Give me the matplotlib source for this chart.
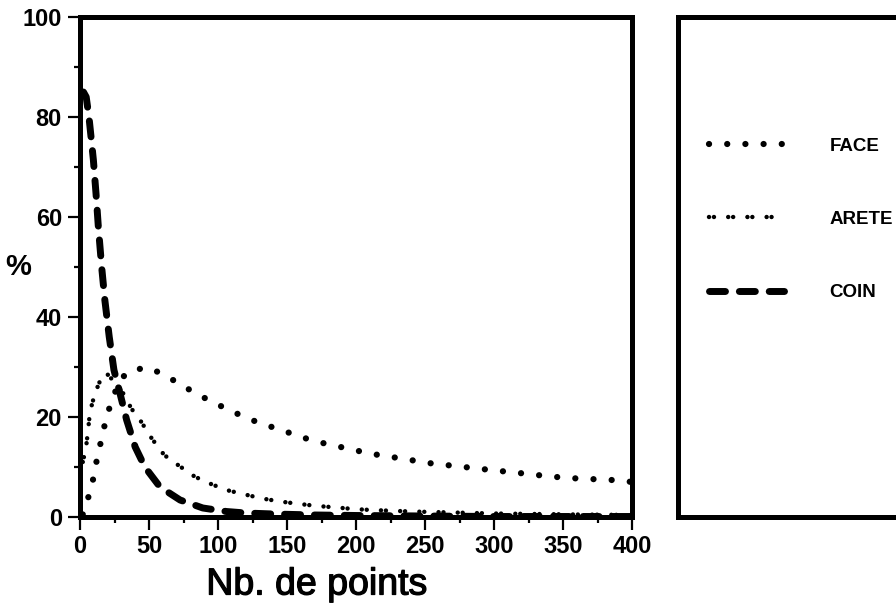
import numpy as np
import matplotlib
matplotlib.use("Agg")
import matplotlib.pyplot as plt
import matplotlib.patheffects as pe
from matplotlib.ticker import MultipleLocator

# valeurs (Nb. de points -> %)
face_x = [2, 3.6, 7.7, 10.4, 12.8, 16, 18.8, 22.7, 29, 36.5, 49.3, 61.3, 72.9, 84,
          96, 108, 120, 132, 145, 158, 171, 184, 197, 210, 223, 236, 249, 262,
          275, 288, 301, 315, 328, 341, 354, 368, 381, 394, 400]
face_y = [0.5, 2, 5.3, 8.7, 12.4, 16, 19.6, 23, 27.5, 29.3, 29.9, 28.4, 26.5, 24.7,
          23, 21.4, 19.9, 18.6, 17.5, 16.2, 15.1, 14.3, 13.5, 12.7, 12.1, 11.6,
          10.9, 10.5, 10.1, 9.7, 9.3, 8.9, 8.5, 8.1, 7.8, 7.6, 7.5, 7.2, 7.0]

arete_x = [2, 4.3, 6, 7.2, 10.9, 15.7, 19, 25, 31.4, 37.2, 44.2, 52, 61, 71, 83,
           94, 106, 118, 132, 145, 159, 172, 186, 198, 211, 240, 270, 300, 330,
           360, 400]
arete_y = [11, 13.7, 17.7, 21, 24.8, 28, 28.8, 27, 24.7, 21.7, 19.1, 15.7, 12.4,
           10.4, 8.1, 6.7, 5.4, 4.6, 3.7, 3.1, 2.6, 2.2, 1.9, 1.6, 1.4, 1.1, 0.9,
           0.7, 0.6, 0.5, 0.4]

coin_x = [2.5, 4.5, 6.5, 8, 9.7, 11.6, 13.3, 15.7, 18, 21.2, 24.6, 29, 33.8, 40,
          47, 58, 72.5, 89, 106, 120, 140, 170, 200, 250, 300, 350, 400]
coin_y = [85, 84, 80, 76, 71.4, 64.7, 58, 50, 43.4, 36, 29.4, 24.7, 19.4, 14, 10,
          6, 3.4, 1.8, 1.1, 0.8, 0.6, 0.4, 0.3, 0.2, 0.1, 0.1, 0.1]

labels = ["FACE", "ARETE", "COIN"]
xticks = [0, 50, 100, 150, 200, 250, 300, 350, 400]
yticks = [0, 20, 40, 60, 80, 100]

fam_tick = ["Liberation Sans Narrow", "Liberation Sans", "DejaVu Sans"]
fam = ["Liberation Sans", "DejaVu Sans"]

fig = plt.figure(figsize=(8.96, 6.05), dpi=100)
ax = fig.add_axes([80 / 896, 88 / 605, 552 / 896, 500 / 605])

l1, = ax.plot(face_x, face_y, color="black", lw=4.5,
              linestyle=(0, (0.01, 2.9)), dash_capstyle="round", label=labels[0])
# ARETE : petits motifs doubles
l2, = ax.plot(arete_x, arete_y, color="black", lw=3.2,
              linestyle=(0, (0.01, 1.1, 0.01, 3.2)), dash_capstyle="round", label=labels[1])
l3, = ax.plot(coin_x, coin_y, color="black", lw=5,
              linestyle=(0, (2.3, 2.0)), dash_capstyle="round", label=labels[2])

ax.set_xlim(0, 400)
ax.set_ylim(0, 100)
ax.set_xticks(xticks)
ax.set_yticks(yticks)
ax.xaxis.set_minor_locator(MultipleLocator(25))
ax.yaxis.set_minor_locator(MultipleLocator(10))
ax.tick_params(which="major", direction="out", length=9, width=1.6, pad=4)
ax.tick_params(which="minor", direction="out", length=4.5, width=1.6)
for t in ax.get_xticklabels() + ax.get_yticklabels():
    t.set_family(fam_tick)
    t.set_fontweight("bold")
    t.set_fontsize(17)
for s in ax.spines.values():
    s.set_linewidth(3.6)

ax.set_xlabel("Nb. de points", family=fam, fontsize=27,
              path_effects=[pe.withStroke(linewidth=0.9, foreground="black")])
ax.xaxis.set_label_coords(0.429, -0.099)
ax.set_ylabel("%", family=fam, fontsize=21, fontweight="bold", rotation=0,
              ha="center", va="center")
ax.yaxis.set_label_coords(-0.112, 0.5)

# cadre de la légende
lax = fig.add_axes([678 / 896, 88 / 605, 0.4, 500 / 605])
lax.set_xticks([])
lax.set_yticks([])
for s in lax.spines.values():
    s.set_linewidth(3.6)

fig.legend(handles=[l1, l2, l3], loc="upper left",
           bbox_to_anchor=(700 / 896, (605 - 128) / 605),
           frameon=False, borderpad=0, handlelength=4.0, handletextpad=2.4,
           labelspacing=3.0, prop={"family": fam, "weight": "bold", "size": 13.5})

fig.savefig("out.png", dpi=100)
